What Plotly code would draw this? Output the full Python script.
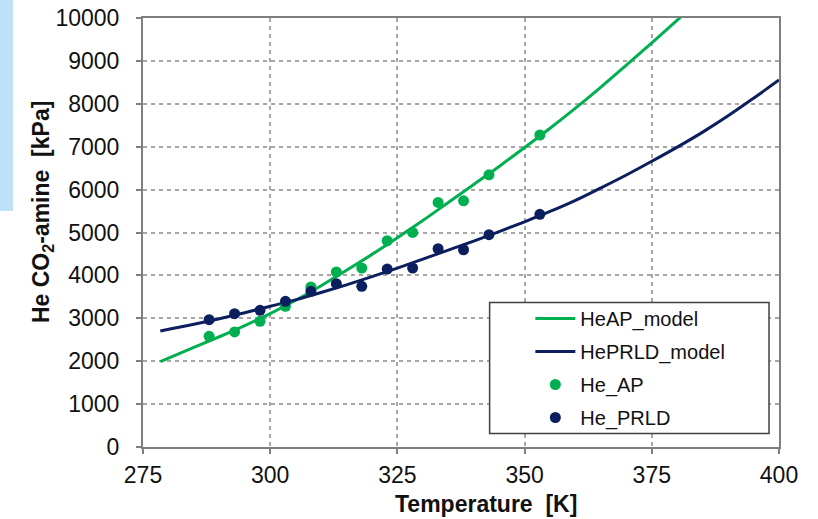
import plotly.graph_objects as go

# Measured data (temperature in K, pressure in kPa)
T_points = [288, 293, 298, 303, 308, 313, 318, 323, 328, 333, 338, 343, 353]
He_AP = [2580, 2682, 2929, 3278, 3730, 4079, 4172, 4808, 5002, 5700, 5739, 6345, 7273]
He_PRLD = [2969, 3108, 3185, 3395, 3628, 3806, 3745, 4148, 4172, 4621, 4598, 4948, 5424]

# Model curves
T_AP_model = [278.4, 285, 290, 295, 300, 305, 310, 315, 320, 325, 330, 335, 340, 345, 350, 355, 360, 365, 370, 375, 380, 382]
HeAP_model = [1990, 2320, 2570, 2830, 3110, 3420, 3760, 4120, 4490, 4880, 5280, 5700, 6120, 6540, 6980, 7430, 7900, 8390, 8900, 9420, 9950, 10160]
T_PRLD_model = [278.4, 285, 290, 295, 300, 305, 310, 315, 320, 325, 330, 335, 340, 345, 350, 355, 360, 365, 370, 375, 380, 385, 390, 395, 400]
HePRLD_model = [2704, 2860, 2990, 3130, 3280, 3430, 3600, 3780, 3970, 4170, 4380, 4590, 4800, 5020, 5250, 5490, 5750, 6040, 6340, 6660, 6990, 7340, 7720, 8130, 8555]

x_ticks = [275, 300, 325, 350, 375, 400]
y_ticks = [0, 1000, 2000, 3000, 4000, 5000, 6000, 7000, 8000, 9000, 10000]
y_ticktext = [str(v) for v in y_ticks]

GREEN = "#00B050"
NAVY = "#0B1F5E"
FONT = "Liberation Sans, Arial, sans-serif"

fig = go.Figure()
fig.add_trace(go.Scatter(x=T_AP_model, y=HeAP_model, mode="lines", name="HeAP_model",
                         line=dict(color=GREEN, width=3, shape="spline"), legendgroup="a"))
fig.add_trace(go.Scatter(x=T_PRLD_model, y=HePRLD_model, mode="lines", name="HePRLD_model",
                         line=dict(color=NAVY, width=3, shape="spline"), legendgroup="b"))
fig.add_trace(go.Scatter(x=T_points, y=He_AP, mode="markers", name="He_AP",
                         marker=dict(color=GREEN, size=11), legendgroup="c"))
fig.add_trace(go.Scatter(x=T_points, y=He_PRLD, mode="markers", name="He_PRLD",
                         marker=dict(color=NAVY, size=11), legendgroup="d"))

axis_common = dict(
    showgrid=True, gridcolor="#A6A6A6", griddash="4px,4px", gridwidth=1.5,
    showline=True, linecolor="#7F7F7F", linewidth=2, mirror=True,
    ticks="outside", ticklen=5, tickcolor="#7F7F7F", tickwidth=1.5,
    tickfont=dict(family=FONT, size=23, color="#111111"),
    zeroline=False, automargin=False,
)

fig.update_xaxes(range=[275, 400], tickvals=x_ticks, ticklabelstandoff=1, **axis_common)
fig.update_yaxes(range=[0, 10000], tickvals=y_ticks, ticktext=y_ticktext, ticklabelstandoff=12, **axis_common)

fig.update_layout(
    width=818, height=519,
    margin=dict(l=143, r=39, t=18, b=72, autoexpand=False),
    paper_bgcolor="white", plot_bgcolor="white",
    showlegend=True,
    legend=dict(x=0.609, y=0.345, xanchor="left", yanchor="top",
                bgcolor="rgba(0,0,0,0)", borderwidth=0,
                font=dict(family=FONT, size=20, color="#111111"),
                tracegroupgap=4, itemwidth=40),
    annotations=[
        dict(text="Temperature  [K]", xref="paper", yref="paper", x=0.54, y=-0.133,
             xanchor="center", yanchor="middle", showarrow=False,
             font=dict(family=FONT, size=23, color="#111111", weight="bold")),
        dict(text="He CO<sub>2</sub>-amine  [kPa]", xref="paper", yref="paper", x=-0.157, y=0.548,
             xanchor="center", yanchor="middle", showarrow=False, textangle=-90,
             font=dict(family=FONT, size=23, color="#111111", weight="bold")),
    ],
    shapes=[
        dict(type="rect", xref="paper", yref="paper", x0=-0.23, x1=-0.2044, y0=0.55, y1=1.05,
             fillcolor="#BDE1F6", line=dict(width=0), layer="below"),
        dict(type="rect", xref="paper", yref="paper", x0=0.545, x1=0.9843, y0=0.0314, y1=0.337,
             fillcolor="white", line=dict(color="#404040", width=1.5), layer="above"),
    ],
)

fig.write_html("out.html")
